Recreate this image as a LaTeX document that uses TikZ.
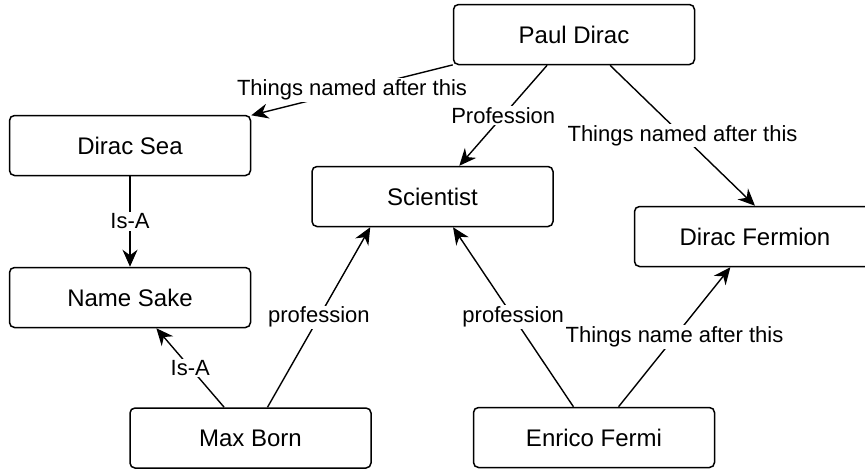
\documentclass[tikz,border=0pt]{standalone}
\usepackage{fontspec}
\setmainfont{Liberation Sans}
\usetikzlibrary{arrows.meta,calc}
\begin{document}
\begin{tikzpicture}[x=1pt,y=-1pt,
  box/.style={draw, line width=1.5pt, rounded corners=5pt, minimum width=241pt, minimum height=60pt, inner sep=0pt, font=\fontsize{24}{28}\selectfont},
  conn/.style={line width=1.4pt, -{Stealth[length=17pt,width=15pt,inset=5.5pt]}},
  lbl/.style={fill=white, inner sep=1.5pt, font=\fontsize{22}{26}\selectfont}]
\useasboundingbox (0,0) rectangle (865,469);
\node[box] (pd) at (574,34.5) {Paul Dirac};
\node[box] (ds) at (130,145.5) {Dirac Sea};
\node[box] (sci) at (432.5,196.5) {Scientist};
\node[box] (df) at (755,236.5) {Dirac Fermion};
\node[box] (ns) at (130,297.5) {Name Sake};
\node[box] (mb) at (250.5,438) {Max Born};
\node[box] (ef) at (594,437.5) {Enrico Fermi};
\draw[conn] (pd) -- node[lbl]{Things named after this} (ds);
\draw[conn] (pd) -- node[lbl]{Profession} (sci);
\draw[conn] ($(pd.south)+(36,0)$) -- node[lbl]{Things named after this} (df.north);
\draw[conn] (ds) -- node[lbl]{Is-A} (ns);
\draw[conn] (mb) -- node[lbl]{Is-A} (ns);
\draw[conn] ($(mb.north)+(17,0)$) -- node[lbl]{profession} ($(sci.south west)+(59,0)$);
\draw[conn] (ef) -- node[lbl]{profession} (sci);
\draw[conn] (ef) -- node[lbl]{Things name after this} (df);
\end{tikzpicture}
\end{document}
